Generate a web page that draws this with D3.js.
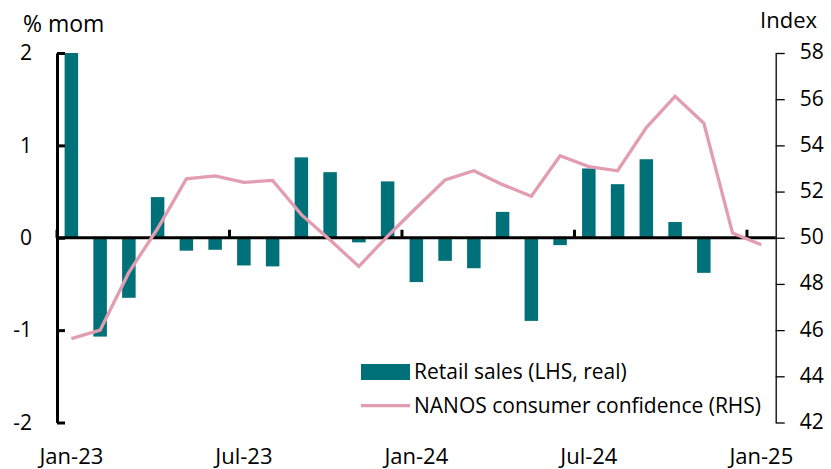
<!DOCTYPE html>
<html>
<head>
<meta charset="utf-8">
<script src="https://cdn.jsdelivr.net/npm/d3@7"></script>
<style>
  html, body { margin: 0; padding: 0; background: #fff; }
  svg { display: block; font-family: "Open Sans", sans-serif; }
  text { fill: #000; }
</style>
</head>
<body>
<svg id="chart" width="831" height="469"></svg>
<script>
const months = ["Jan-23","Feb-23","Mar-23","Apr-23","May-23","Jun-23","Jul-23","Aug-23","Sep-23","Oct-23","Nov-23","Dec-23",
                "Jan-24","Feb-24","Mar-24","Apr-24","May-24","Jun-24","Jul-24","Aug-24","Sep-24","Oct-24","Nov-24","Dec-24","Jan-25"];
const retailSales = [2.0, -1.07, -0.65, 0.44, -0.14, -0.13, -0.30, -0.31, 0.87, 0.71, -0.05, 0.61,
                     -0.48, -0.25, -0.33, 0.28, -0.90, -0.08, 0.75, 0.58, 0.85, 0.17, -0.38, null, null];
const nanos = [45.63, 46.0, 48.5, 50.4, 52.55, 52.68, 52.4, 52.48, 51.0, 49.9, 48.76, 50.07,
               51.3, 52.5, 52.9, 52.3, 51.8, 53.55, 53.08, 52.9, 54.77, 56.12, 54.96, 50.2, 49.7];
const xTickLabels = ["Jan-23","Jul-23","Jan-24","Jul-24","Jan-25"];
const leftTicks = [-2, -1, 0, 1, 2];
const rightTicks = [42, 44, 46, 48, 50, 52, 54, 56, 58];
const seriesNames = ["Retail sales (LHS, real)", "NANOS consumer confidence (RHS)"];

const barColor = "#007079";
const lineColor = "#E29DB1";

const svg = d3.select("#chart");
const L = 57, R = 775.7, T = 53, B = 422.5;

const x = d3.scaleBand().domain(months).range([L, R]).paddingInner(0.53).paddingOuter(0.265);
const yL = d3.scaleLinear().domain([-2, 2]).range([B, T]);
const yR = d3.scaleLinear().domain([42, 58]).range([B, T]);
const cx = m => x(m) + x.bandwidth() / 2;
const boundary = m => x(m) - x.step() * x.paddingInner() / 2;

// Bars
svg.append("g").selectAll("rect")
  .data(months.map((m, i) => ({ m, v: retailSales[i] })).filter(d => d.v != null))
  .join("rect")
  .attr("x", d => x(d.m))
  .attr("width", x.bandwidth())
  .attr("y", d => yL(Math.max(0, d.v)))
  .attr("height", d => Math.abs(yL(d.v) - yL(0)))
  .attr("fill", barColor);

// Left axis
const leftAxis = d3.axisLeft(yL).tickValues(leftTicks).tickFormat(d => String(d))
  .tickSizeInner(-8).tickSizeOuter(0).tickPadding(25);
const gL = svg.append("g").attr("transform", `translate(${L},0)`).call(leftAxis);
gL.select(".domain").attr("stroke", "#000").attr("stroke-width", 3);
gL.selectAll(".tick line").attr("stroke", "#000").attr("stroke-width", 3);
gL.selectAll(".tick text").style("font-size", "21px").style("font-family", "Open Sans");

// Right axis
const rightAxis = d3.axisRight(yR).tickValues(rightTicks).tickSizeInner(9).tickSizeOuter(0).tickPadding(15);
const gR = svg.append("g").attr("transform", `translate(${R},0)`).call(rightAxis);
gR.select(".domain").attr("stroke", "#000").attr("stroke-width", 1.3);
gR.selectAll(".tick line").attr("stroke", "#000").attr("stroke-width", 1.3);
gR.selectAll(".tick text").style("font-size", "21px").style("font-family", "Open Sans").attr("dy", "0.28em");

// X axis labels
const bottomAxis = d3.axisBottom(x).tickValues(xTickLabels).tickSize(0).tickPadding(26);
const gB = svg.append("g").attr("transform", `translate(0,${B})`).call(bottomAxis);
gB.select(".domain").remove();
gB.selectAll(".tick text").style("font-size", "22px").style("font-family", "Open Sans");

// Zero line and x ticks
const y0 = yL(0);
svg.append("line").attr("x1", L).attr("x2", R).attr("y1", y0).attr("y2", y0)
  .attr("stroke", "#000").attr("stroke-width", 3);
svg.append("g").selectAll("line").data(xTickLabels).join("line")
  .attr("x1", d => boundary(d)).attr("x2", d => boundary(d))
  .attr("y1", y0).attr("y2", y0 - 8)
  .attr("stroke", "#000").attr("stroke-width", 3);

// Line
const line = d3.line().x((d, i) => cx(months[i])).y(d => yR(d));
svg.append("path").datum(nanos).attr("d", line)
  .attr("fill", "none").attr("stroke", lineColor).attr("stroke-width", 3.3).attr("stroke-linejoin", "miter");

// Axis titles
svg.append("text").attr("x", 23).attr("y", 32).style("font-size", "23px").text("% mom");
svg.append("text").attr("x", 817).attr("y", 28).attr("text-anchor", "end").style("font-size", "22px").text("Index");

// Legend
const lg = svg.append("g");
lg.append("rect").attr("x", 361).attr("y", 364).attr("width", 49).attr("height", 16).attr("fill", barColor);
lg.append("text").attr("x", 414).attr("y", 379).style("font-size", "21px").text(seriesNames[0]);
lg.append("line").attr("x1", 361).attr("x2", 410).attr("y1", 405.7).attr("y2", 405.7)
  .attr("stroke", lineColor).attr("stroke-width", 3.3);
lg.append("text").attr("x", 414).attr("y", 412.7).style("font-size", "21px").text(seriesNames[1]);
</script>
</body>
</html>
